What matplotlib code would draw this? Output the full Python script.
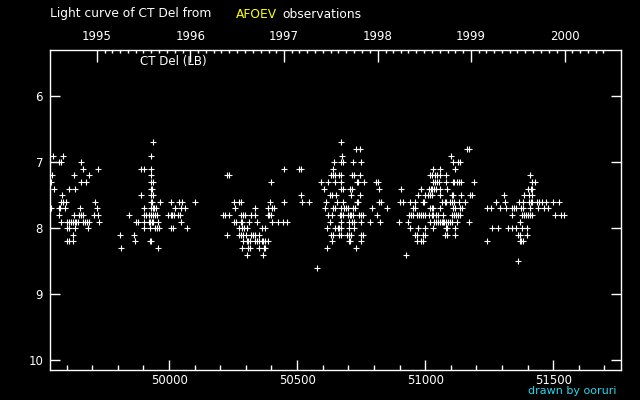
"""Light curve of CT Del from AFOEV observations (re-drawn)."""
import numpy as np
from matplotlib import pyplot as plt
from matplotlib.ticker import MultipleLocator, FixedLocator

# Observations: magnitude -> list of JD - 2400000, one dict per season
season_1995 = {
    6.9: [49547, 49586],
    7.0: [49570, 49577, 49656],
    7.1: [49664, 49723],
    7.2: [49543, 49629, 49688],
    7.3: [49539, 49656, 49676],
    7.4: [49551, 49610, 49633],
    7.5: [49582],
    7.6: [49578, 49586, 49598, 49711],
    7.7: [49539, 49570, 49576, 49594, 49652, 49719],
    7.8: [49569, 49629, 49649, 49656, 49664, 49705, 49723],
    7.9: [49578, 49602, 49610, 49617, 49625, 49633, 49638, 49643, 49664,
          49672, 49680, 49688, 49727],
    8.0: [49603, 49608, 49633, 49684],
    8.1: [49625],
    8.2: [49602, 49610, 49625],
}
season_1995b = {
    6.7: [49938],
    6.9: [49930],
    7.1: [49891, 49902, 49930],
    7.2: [49930],
    7.3: [49930, 49938],
    7.4: [49929, 49935],
    7.5: [49891, 49930, 49938],
    7.6: [49929, 49935, 49965, 50008, 50039, 50051, 50102],
    7.7: [49902, 49930, 49938, 49942, 49949, 50024, 50047, 50063],
    7.8: [49844, 49902, 49910, 49922, 49930, 49938, 49945, 49953, 49996,
          50008, 50012, 50018, 50035, 50043],
    7.9: [49871, 49879, 49902, 49922, 49926, 49932, 49938, 49957, 50047],
    8.0: [49902, 49926, 49945, 49953, 49961, 50008, 50016, 50070],
    8.1: [49809, 49863],
    8.2: [49867, 49925, 49931],
    8.3: [49813, 49957],
}
season_1996 = {
    7.1: [50449, 50508, 50516],
    7.2: [50227, 50235],
    7.3: [50399],
    7.5: [50516],
    7.6: [50254, 50272, 50279, 50395, 50449, 50520, 50547],
    7.7: [50258, 50336, 50387, 50402, 50408],
    7.8: [50211, 50219, 50235, 50281, 50289, 50297, 50320, 50336, 50387,
          50392, 50397],
    7.9: [50254, 50262, 50279, 50284, 50313, 50344, 50402, 50426, 50445,
          50461],
    8.0: [50274, 50285, 50292, 50305, 50363, 50375],
    8.1: [50227, 50274, 50281, 50289, 50301, 50320, 50328, 50336, 50352],
    8.2: [50289, 50305, 50310, 50315, 50336, 50344, 50352, 50361, 50366,
          50375, 50387],
    8.3: [50285, 50309, 50317, 50352, 50369, 50374],
    8.4: [50305, 50367],
}
season_1997 = {
    6.7: [50672],
    6.8: [50731, 50746],
    6.9: [50676],
    7.0: [50645, 50673, 50678, 50719, 50750],
    7.1: [50641],
    7.2: [50633, 50641, 50649, 50664, 50672, 50715, 50723, 50746],
    7.3: [50594, 50621, 50649, 50672, 50732, 50737, 50762, 50810, 50815],
    7.4: [50606, 50673, 50678, 50707, 50715, 50820],
    7.5: [50630, 50636, 50652, 50711, 50746],
    7.6: [50613, 50656, 50680, 50732, 50737, 50820, 50828],
    7.7: [50610, 50642, 50647, 50672, 50684, 50692, 50699, 50719, 50727,
          50793, 50852],
    7.8: [50621, 50637, 50668, 50673, 50678, 50699, 50707, 50712, 50718,
          50742, 50751, 50757, 50813],
    7.9: [50629, 50672, 50703, 50715, 50723, 50750, 50785, 50824],
    8.0: [50617, 50649, 50660, 50665, 50671, 50703, 50723],
    8.1: [50633, 50641, 50664, 50672, 50695, 50703, 50711, 50751, 50757],
    8.2: [50637, 50701, 50706, 50750],
    8.3: [50617, 50731],
    8.6: [50578],
}
season_1998 = {
    6.8: [51164, 51172],
    6.9: [51102],
    7.0: [51109, 51130, 51136],
    7.1: [51031, 51059, 51117],
    7.2: [51020, 51027, 51040, 51047, 51059, 51082],
    7.3: [51031, 51039, 51048, 51053, 51082, 51107, 51112, 51125, 51133,
          51141, 51192],
    7.4: [50906, 50985, 51016, 51021, 51026, 51035, 51043, 51059, 51086],
    7.5: [50973, 51000, 51012, 51020, 51027, 51059, 51103, 51108, 51141,
          51176, 51184],
    7.6: [50902, 50914, 50942, 50961, 50990, 50995, 51066, 51076, 51081,
          51098, 51106, 51113, 51133, 51156],
    7.7: [50953, 50961, 51020, 51025, 51030, 51059, 51109, 51117, 51137,
          51145],
    7.8: [50938, 50945, 50953, 50969, 50977, 50985, 50992, 51000, 51016,
          51025, 51030, 51044, 51050, 51070, 51106, 51113, 51121, 51129,
          51137],
    7.9: [50899, 50934, 51020, 51035, 51043, 51051, 51059, 51064, 51069,
          51074, 51082, 51090, 51099, 51104, 51125, 51172],
    8.0: [50942, 50973, 51000, 51031, 51080, 51085, 51117],
    8.1: [50961, 50969, 50992, 51000, 51078, 51086, 51117],
    8.2: [50969, 50985, 50992],
    8.4: [50926],
}
season_1999 = {
    7.2: [51410],
    7.3: [51418, 51430],
    7.4: [51402, 51412, 51417],
    7.5: [51309, 51387, 51406, 51418],
    7.6: [51277, 51313, 51367, 51383, 51406, 51412, 51417, 51438, 51445,
          51457, 51473, 51500, 51524],
    7.7: [51242, 51258, 51293, 51317, 51340, 51348, 51356, 51375, 51383,
          51410, 51442, 51465, 51481],
    7.8: [51340, 51379, 51387, 51395, 51402, 51410, 51418, 51508, 51531,
          51543],
    7.9: [51371],
    8.0: [51262, 51285, 51324, 51340, 51356, 51379, 51399],
    8.1: [51363, 51369, 51399],
    8.2: [51242, 51369, 51374, 51383],
    8.5: [51363],
}
seasons = [season_1995, season_1995b, season_1996, season_1997,
           season_1998, season_1999]

years = [1995, 1996, 1997, 1998, 1999, 2000]

jd, mag = [], []
for season in seasons:
    for m, days in season.items():
        jd += days
        mag += [m] * len(days)


def to_rjd(date):
    """JD - 2400000 of a numpy datetime64 (0h UT)."""
    days = (date - np.datetime64('1858-11-17')).astype('timedelta64[D]')
    return days.astype(float) + 0.5


fg = 'white'
plt.rcParams['font.family'] = ['DejaVu Sans']

fig = plt.figure(figsize=(6.4, 4.0), dpi=100, facecolor='black')
ax = fig.add_axes([50 / 640, 30 / 400, 570.5 / 640, 320 / 400])
ax.set_facecolor('black')

ax.plot(jd, mag, '+', color=fg, ms=3.8, mew=0.8)

ax.set_xlim(49535, 51763)
ax.set_ylim(10.15, 5.3)
ax.xaxis.set_major_locator(MultipleLocator(500))
ax.xaxis.set_minor_locator(MultipleLocator(100))
ax.yaxis.set_major_locator(MultipleLocator(1))
ax.yaxis.set_minor_locator(FixedLocator([]))
ax.tick_params(which='both', direction='in', colors=fg, labelsize=8.5,
               top=False, right=True, width=1.0)
ax.tick_params(which='major', length=7.5)
ax.tick_params(which='minor', length=3.5)
ax.tick_params(axis='x', pad=3)
ax.tick_params(axis='y', pad=5)
for spine in ax.spines.values():
    spine.set_color(fg)
    spine.set_linewidth(1.0)

# calendar years along the top
top = ax.twiny()
top.set_xlim(ax.get_xlim())
year_rjd = [to_rjd(np.datetime64('%d-01-01' % y)) for y in years]
months = np.arange(np.datetime64('1995-01'), np.datetime64('2000-07'))
month_rjd = [to_rjd(m.astype('datetime64[D]')) for m in months]
top.xaxis.set_major_locator(FixedLocator(year_rjd))
top.xaxis.set_minor_locator(FixedLocator(month_rjd))
top.set_xticklabels([str(y) for y in years])
top.tick_params(which='both', direction='in', colors=fg, labelsize=8.5,
                width=1.0, pad=5)
top.tick_params(which='major', length=8.5)
top.tick_params(which='minor', length=2.5)
for spine in top.spines.values():
    spine.set_visible(False)

fig.text(50 / 640, 1 - 14 / 400, 'Light curve of CT Del from', color=fg,
         fontsize=8.8, va='center', ha='left')
fig.text(236 / 640, 1 - 14 / 400, 'AFOEV', color='#ffff00',
         fontsize=8.8, va='center', ha='left')
fig.text(282 / 640, 1 - 14 / 400, 'observations', color=fg,
         fontsize=8.8, va='center', ha='left')
fig.text(140 / 640, 1 - 62 / 400, 'CT Del (LB)', color=fg,
         fontsize=8.5, va='center', ha='left')
fig.text(617 / 640, 1 - 391 / 400, 'drawn by ooruri', color='#22d8f0',
         fontsize=8, va='center', ha='right')

fig.savefig('out.png', facecolor='black')
